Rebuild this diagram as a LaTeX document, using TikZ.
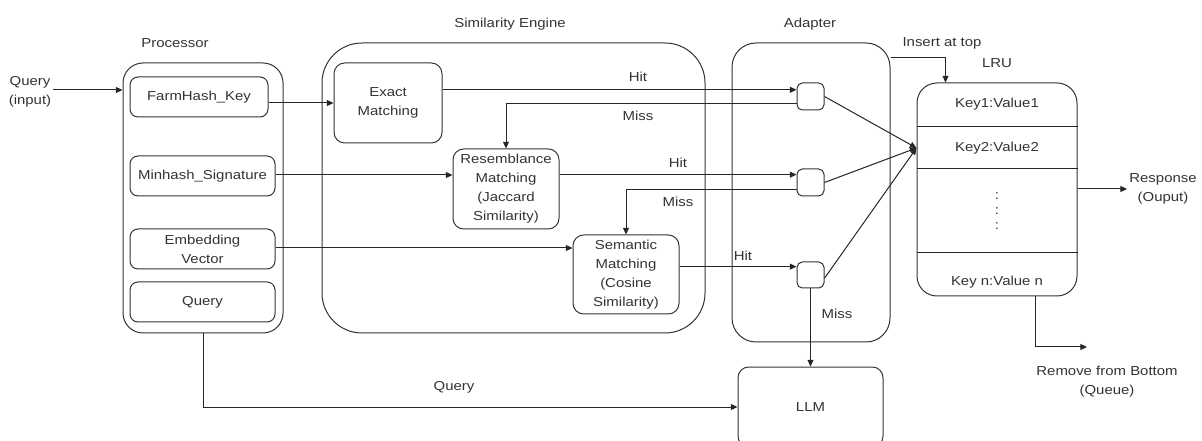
\documentclass[tikz,border=0pt]{standalone}
\usepackage{fontspec}
\setmainfont{Liberation Sans}[FakeStretch=1.15]
\usetikzlibrary{arrows.meta,calc}
\begin{document}
\begin{tikzpicture}[x=0.75pt,y=-0.75pt,
  every node/.style={font=\fontsize{9.75pt}{14.25pt}\selectfont, text=black!80},
  box/.style={draw=black!80, line width=0.75pt, rounded corners=#1, inner sep=0pt},
  box/.default=6pt,
  sz/.style 2 args={minimum width=#1*0.75pt, minimum height=#2*0.75pt},
  arr/.style={-{Triangle[length=5pt,width=4.5pt]}, draw=black!85, line width=0.75pt},
  ln/.style={draw=black!85, line width=0.75pt},
  lbl/.style={inner sep=1pt}]
\useasboundingbox (0,0) rectangle (1202,441);
\clip (0,0) rectangle (1202,441);

% Processor
\node[box=15pt, sz={160}{270}] (proc) at (203,198) {};
\node[lbl] (proct) at (175,43) {Processor};
\node[box=6pt, sz={138}{40}] (farm) at (199,97) {FarmHash\_Key};
\node[box=6pt, sz={145}{40}] (minh) at (202.5,176) {Minhash\_Signature};
\node[box=6pt, sz={145}{40}, align=center] (emb) at (202.5,249) {Embedding\\Vector};
\node[box=6pt, sz={145}{40}] (pq) at (202.5,302) {Query};
\node[lbl, align=center] (qin) at (30,92) {Query\\(input)};

% Similarity engine
\node[box=30pt, sz={383}{290}] (sim) at (513.5,188) {};
\node[lbl] (simt) at (510,24) {Similarity Engine};
\node[box=8pt, sz={108}{80}, align=center] (exact) at (388,103) {Exact\\Matching};
\node[box=8pt, sz={106}{80}, align=center] (res) at (506,189) {Resemblance\\Matching\\(Jaccard\\Similarity)};
\node[box=8pt, sz={106}{79}, align=center] (sem) at (626,274.5) {Semantic\\Matching\\(Cosine\\Similarity)};

% Adapter
\node[box=18pt, sz={158}{299}] (adp) at (811,192.5) {};
\node[lbl] (adpt) at (810,24) {Adapter};
\node[box=4pt, sz={27}{27}] (b1) at (810.5,96.5) {};
\node[box=4pt, sz={27}{27}] (b2) at (810.5,182.5) {};
\node[box=4pt, sz={27}{26}] (b3) at (810.5,275) {};

% LLM
\node[box=8pt, sz={145}{80}] (llm) at (810.5,407) {LLM};

% LRU
\node[box=15pt, sz={160}{213}] (lru) at (997,189.5) {};
\node[lbl] (lrut) at (997,63) {LRU};
\draw[ln] (lru.west |- 0,127) -- (lru.east |- 0,127);
\draw[ln] (lru.west |- 0,169) -- (lru.east |- 0,169);
\draw[ln] (lru.west |- 0,253) -- (lru.east |- 0,253);
\node[lbl] (k1) at (997,104) {Key1:Value1};
\node[lbl] (k2) at (997,148) {Key2:Value2};
\node[lbl, align=center, font=\fontsize{9.75pt}{11.5pt}\selectfont] (dots) at (997,211) {:\\:\\:};
\node[lbl] (kn) at (997,282) {Key n:Value n};
\node[lbl, align=center] (resp) at (1163,189) {Response\\(Ouput)};
\node[lbl, align=center] (rmv) at (1107,382) {Remove from Bottom\\(Queue)};
\node[lbl] (inst) at (942,43) {Insert at top};

% ports
\coordinate (b1in) at ($(b1.north west)!0.26!(b1.south west)$);
\coordinate (b1miss) at ($(b1.north west)!0.74!(b1.south west)$);
\coordinate (b2in) at ($(b2.north west)!0.22!(b2.south west)$);
\coordinate (b2miss) at ($(b2.north west)!0.74!(b2.south west)$);
\coordinate (b3in) at ($(b3.north west)!0.19!(b3.south west)$);
\coordinate (b3out) at ($(b3.north east)!0.62!(b3.south east)$);
\coordinate (mrg) at (k2 -| lru.west);
\coordinate (respend) at (1127,189);
\coordinate (rmend) at (1087,347);

% connectors
\draw[arr] (qin.east |- 0,90) -- (proc.west |- 0,90);
\draw[arr] (farm.east |- exact) -- (exact.west);
\draw[arr] (minh.east |- 0,175) -- (res.west |- 0,175);
\draw[arr] (emb.east |- 0,248) -- (sem.west |- 0,248);

\draw[arr] (exact.east |- b1in) -- (b1in);
\draw[arr] (b1miss) -| (res.north);
\draw[arr] (res.east |- b2in) -- (b2in);
\draw[arr] (b2miss) -| (sem.north);
\draw[arr] (sem.east |- b3in) -- (b3in);

\draw[arr] (b1.east) -- (mrg);
\draw[arr] (b2.east) -- (mrg);
\draw[arr] (b3out) -- (mrg);

\draw[arr] (b3.south) -- (b3.south |- llm.north);
\draw[arr] (proc.south) |- (llm.west);

\draw[arr] ($(adp.north east)+(0,15)$) -| ($(lru.north west)+(29,0)$);
\draw[arr] (lru.east |- respend) -- (respend);
\draw[arr] ($(lru.south)+(38,0)$) |- (rmend);

% connector labels
\node[lbl] at (638,77) {Hit};
\node[lbl] at (638,116) {Miss};
\node[lbl] at (678,163) {Hit};
\node[lbl] at (678,202) {Miss};
\node[lbl] at (743,256) {Hit};
\node[lbl] at (837,314) {Miss};
\node[lbl] at (454,387) {Query};
\end{tikzpicture}
\end{document}
